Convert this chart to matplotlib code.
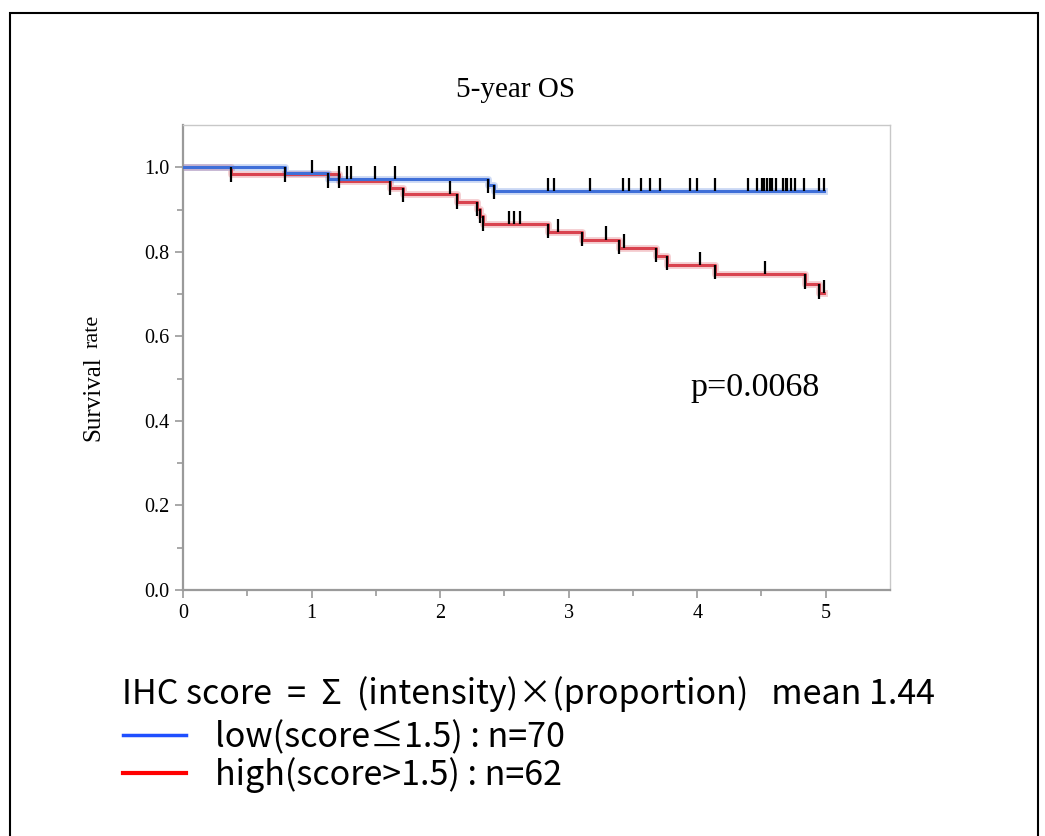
import numpy as np
import matplotlib
matplotlib.use('Agg')
import matplotlib.pyplot as plt
from matplotlib.patches import Rectangle

# Kaplan-Meier steps (time in years, survival after the event)
low_event_t = [0.79, 1.13, 2.373, 2.417]
low_event_s = [0.986, 0.972, 0.958, 0.943]
low_censor_t = [1.00, 1.21, 1.275, 1.31, 1.49, 1.65, 2.84, 2.887, 3.17, 3.424, 3.468,
                3.565, 3.632, 3.707, 3.943, 4.001, 4.138, 4.398, 4.468, 4.502, 4.520,
                4.541, 4.564, 4.585, 4.611, 4.671, 4.689, 4.702, 4.727, 4.759, 4.831,
                4.948, 4.987]
low_end = 4.99

high_event_t = [0.37, 1.21, 1.61, 1.71, 2.13, 2.29, 2.31, 2.33, 2.84, 3.105, 3.39,
                3.676, 3.767, 4.138, 4.836, 4.948]
high_event_s = [0.984, 0.968, 0.952, 0.936, 0.918, 0.901, 0.884, 0.866, 0.847, 0.829,
                0.810, 0.790, 0.769, 0.747, 0.723, 0.702]
high_censor_t = [2.075, 2.534, 2.578, 2.625, 2.915, 3.294, 3.43, 4.02, 4.527, 4.99]
high_end = 4.99

x_ticks = [0, 1, 2, 3, 4, 5]
y_ticks = [0.0, 0.2, 0.4, 0.6, 0.8, 1.0]

title = '5-year OS'
p_text = 'p=0.0068'
legend_head = 'IHC score  =  Σ  (intensity)×(proportion)   mean 1.44'
legend_low = 'low(score≤1.5) : n=70'
legend_high = 'high(score>1.5) : n=62'

serif = 'Liberation Serif'
jp = ['Noto Sans CJK JP', 'DejaVu Sans']

fig = plt.figure(figsize=(10.45, 8.36), dpi=100)
ax = fig.add_axes([0.1751, 0.2943, 0.6766, 0.5562])


def km_curve(ev_t, ev_s, cen_t, end, color):
    t = [0] + ev_t + [end]
    s = [1.0] + ev_s + [ev_s[-1]]
    ax.step(t, s, where='post', color=color, lw=5, alpha=0.25, zorder=2)
    ax.step(t, s, where='post', color=color, lw=2.2, zorder=3)
    # censored marks, tick going up from the curve
    cs = np.array(s)[np.searchsorted(ev_t, cen_t, side='right')]
    ax.vlines(cen_t, cs, cs + 0.031, color='black', lw=1.6, zorder=4)
    # event marks, tick going down from the level before the drop
    prev = np.array([1.0] + ev_s[:-1])
    ax.vlines(ev_t, prev - 0.034, prev, color='black', lw=1.6, zorder=4)


km_curve(high_event_t, high_event_s, high_censor_t, high_end, '#d9434f')
km_curve(low_event_t, low_event_s, low_censor_t, low_end, '#3f6fd8')

ax.set_xlim(0, 5.5)
ax.set_ylim(0, 1.1)
ax.set_xticks(x_ticks)
ax.set_xticks(np.arange(0.5, 5.5, 1.0), minor=True)
ax.set_yticks(y_ticks)
ax.set_yticks(np.arange(0.1, 1.1, 0.2), minor=True)
ax.set_yticklabels([f'{v:.1f}' for v in y_ticks])
ax.set_xticklabels([str(v) for v in x_ticks])
for lab in ax.get_xticklabels() + ax.get_yticklabels():
    lab.set_fontfamily(serif)
    lab.set_fontsize(14.5)
ax.tick_params(which='major', length=6, width=1.2, color='#9a9a9a', pad=4)
ax.tick_params(which='minor', length=4, width=1.2, color='#9a9a9a')
for side in ['left', 'bottom']:
    ax.spines[side].set_color('#9a9a9a')
    ax.spines[side].set_linewidth(1.6)
for side in ['top', 'right']:
    ax.spines[side].set_color('#c8c8c8')
    ax.spines[side].set_linewidth(1.0)

ax.text(3.95, 0.46, p_text, fontfamily=serif, fontsize=24.5, va='baseline', ha='left')

fig.text(515 / 1045, 1 - 97 / 836, title, fontfamily=serif, fontsize=21,
         ha='center', va='baseline')
fig.text(104 / 1045, 1 - 441 / 836, 'Survival', fontfamily=serif, fontsize=18,
         rotation=90, ha='right', va='bottom')
fig.text(103 / 1045, 1 - 348 / 836, 'rate', fontfamily=serif, fontsize=16,
         rotation=90, ha='right', va='bottom')

# legend block under the plot
fig.text(122 / 1045, 1 - 704 / 836, legend_head, family=jp, fontsize=24.5,
         ha='left', va='baseline')
fig.text(215 / 1045, 1 - 747 / 836, legend_low, family=jp, fontsize=24.5,
         ha='left', va='baseline')
fig.text(215 / 1045, 1 - 785 / 836, legend_high, family=jp, fontsize=24.5,
         ha='left', va='baseline')
fig.add_artist(plt.Line2D([123 / 1045, 186 / 1045], [1 - 735 / 836] * 2,
                          color='#1f4fff', lw=2.5, transform=fig.transFigure))
fig.add_artist(plt.Line2D([123 / 1045, 186 / 1045], [1 - 773 / 836] * 2,
                          color='#ff0000', lw=3, transform=fig.transFigure))

# outer frame
fig.add_artist(Rectangle((10 / 1045, -0.05), 1028 / 1045, 0.05 + 1 - 13 / 836,
                         transform=fig.transFigure, fill=False, edgecolor='black',
                         lw=1.5))

fig.savefig('out.png', dpi=100)
